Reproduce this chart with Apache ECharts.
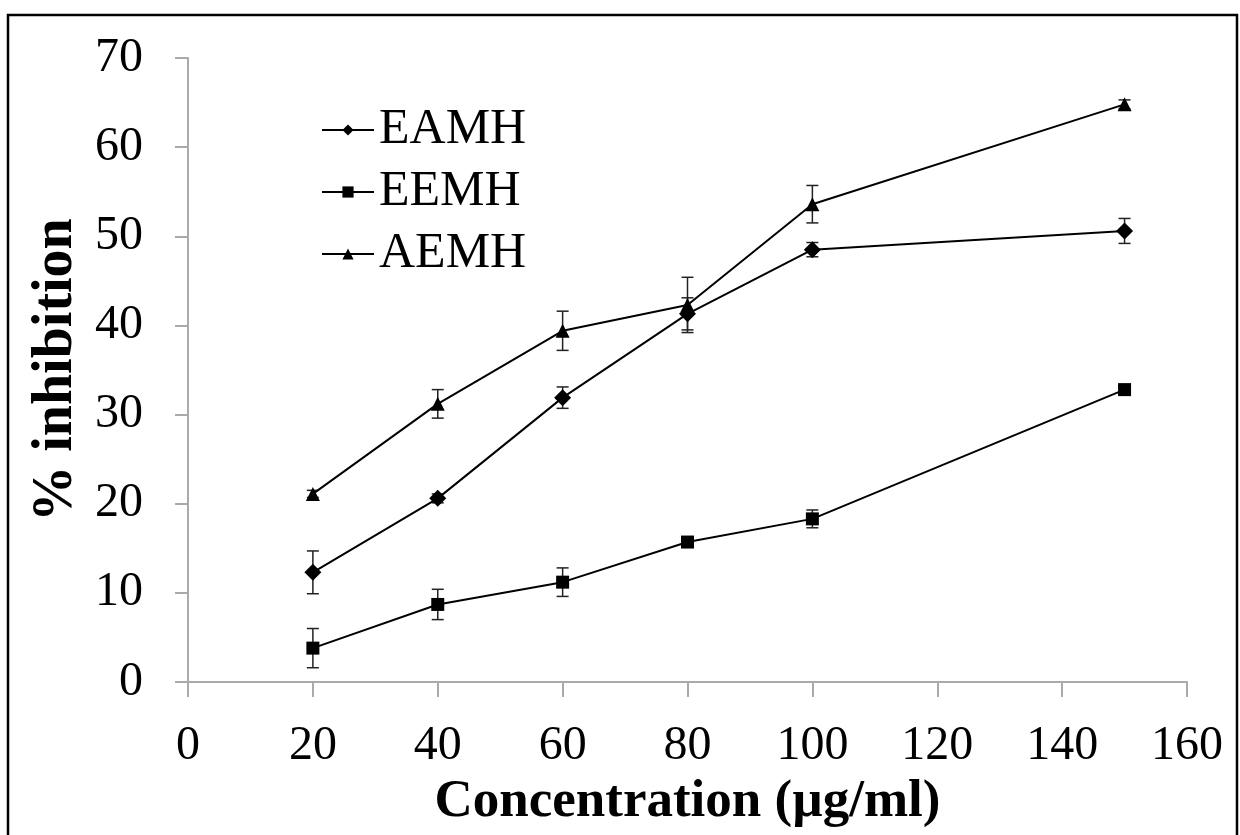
<!DOCTYPE html>
<html>
<head>
<meta charset="utf-8">
<script src="https://cdn.jsdelivr.net/npm/echarts@6/dist/echarts.min.js"></script>
<style>
  html, body { margin: 0; padding: 0; background: #fff; }
  #chart { width: 1240px; height: 835px; }
</style>
</head>
<body>
<div id="chart"></div>
<script>
const concentrations = [20, 40, 60, 80, 100, 150];
const eamh = [12.3, 20.6, 31.9, 41.3, 48.5, 50.6];
const eamhErr = [2.4, 0.5, 1.2, 1.8, 0.8, 1.4];
const eemh = [3.8, 8.7, 11.2, 15.7, 18.3, 32.8];
const eemhErr = [2.2, 1.7, 1.6, 0.5, 1.0, 0.4];
const aemh = [21.1, 31.2, 39.4, 42.3, 53.6, 64.8];
const aemhErr = [0.4, 1.6, 2.2, 3.1, 2.1, 0.5];

const serif = '"Liberation Serif", "Times New Roman", serif';
const axisGray = "#aaaaaa";

const points = (vals) => concentrations.map((c, i) => [c, vals[i]]);
const errPoints = (vals, errs) => concentrations.map((c, i) => [c, vals[i], errs[i]]);

function errorBars(name, vals, errs) {
  return {
    name,
    type: "custom",
    z: 1,
    encode: { x: 0, y: 1 },
    data: errPoints(vals, errs),
    renderItem(params, api) {
      const x = api.value(0), y = api.value(1), e = api.value(2);
      const hi = api.coord([x, y + e]);
      const lo = api.coord([x, y - e]);
      const w = 6;
      const style = { stroke: "#222", lineWidth: 1.5 };
      return {
        type: "group",
        children: [
          { type: "line", shape: { x1: hi[0], y1: hi[1], x2: lo[0], y2: lo[1] }, style },
          { type: "line", shape: { x1: hi[0] - w, y1: hi[1], x2: hi[0] + w, y2: hi[1] }, style },
          { type: "line", shape: { x1: lo[0] - w, y1: lo[1], x2: lo[0] + w, y2: lo[1] }, style },
        ],
      };
    },
  };
}

function lineSeries(name, vals, symbol, size) {
  return {
    name,
    type: "line",
    z: 3,
    data: points(vals),
    symbol,
    symbolSize: size,
    showAllSymbol: true,
    lineStyle: { color: "#000", width: 2 },
    itemStyle: { color: "#000" },
    emphasis: { disabled: true },
  };
}

const chart = echarts.init(document.getElementById("chart"));
chart.setOption({
  animation: false,
  backgroundColor: "#fff",
  graphic: [
    {
      type: "rect",
      shape: { x: 8, y: 15, width: 1229, height: 840 },
      style: { fill: "none", stroke: "#000", lineWidth: 2.5 },
      silent: true,
    },
  ],
  grid: { left: 188, right: 53, top: 58, bottom: 153 },
  legend: {
    data: ["EAMH", "EEMH", "AEMH"],
    orient: "vertical",
    left: 316,
    top: 100,
    itemWidth: 52,
    itemHeight: 14,
    itemGap: 12,
    textStyle: { fontFamily: serif, fontSize: 50, color: "#000", lineHeight: 50 },
  },
  xAxis: {
    type: "value",
    min: 0,
    max: 160,
    interval: 20,
    name: "Concentration (µg/ml)",
    nameLocation: "middle",
    nameGap: 94,
    nameTextStyle: { fontFamily: serif, fontSize: 53, fontWeight: "bold", color: "#000" },
    axisLine: { show: true, lineStyle: { color: axisGray, width: 2 } },
    axisTick: { show: true, length: 15, lineStyle: { color: axisGray, width: 2 } },
    axisLabel: { fontFamily: serif, fontSize: 48, color: "#000", margin: 40 },
    splitLine: { show: false },
  },
  yAxis: {
    type: "value",
    min: 0,
    max: 70,
    interval: 10,
    name: "% inhibition",
    nameLocation: "middle",
    nameRotate: 90,
    nameGap: 100,
    nameTextStyle: { fontFamily: serif, fontSize: 56, fontWeight: "bold", color: "#000" },
    axisLine: { show: true, lineStyle: { color: axisGray, width: 2 } },
    axisTick: { show: true, length: 13, lineStyle: { color: axisGray, width: 2 } },
    axisLabel: { fontFamily: serif, fontSize: 48, color: "#000", margin: 45 },
    splitLine: { show: false },
  },
  series: [
    errorBars("EAMH err", eamh, eamhErr),
    errorBars("EEMH err", eemh, eemhErr),
    errorBars("AEMH err", aemh, aemhErr),
    lineSeries("EAMH", eamh, "diamond", 17),
    lineSeries("EEMH", eemh, "rect", 13),
    lineSeries("AEMH", aemh, "triangle", 14),
  ],
});
</script>
</body>
</html>
